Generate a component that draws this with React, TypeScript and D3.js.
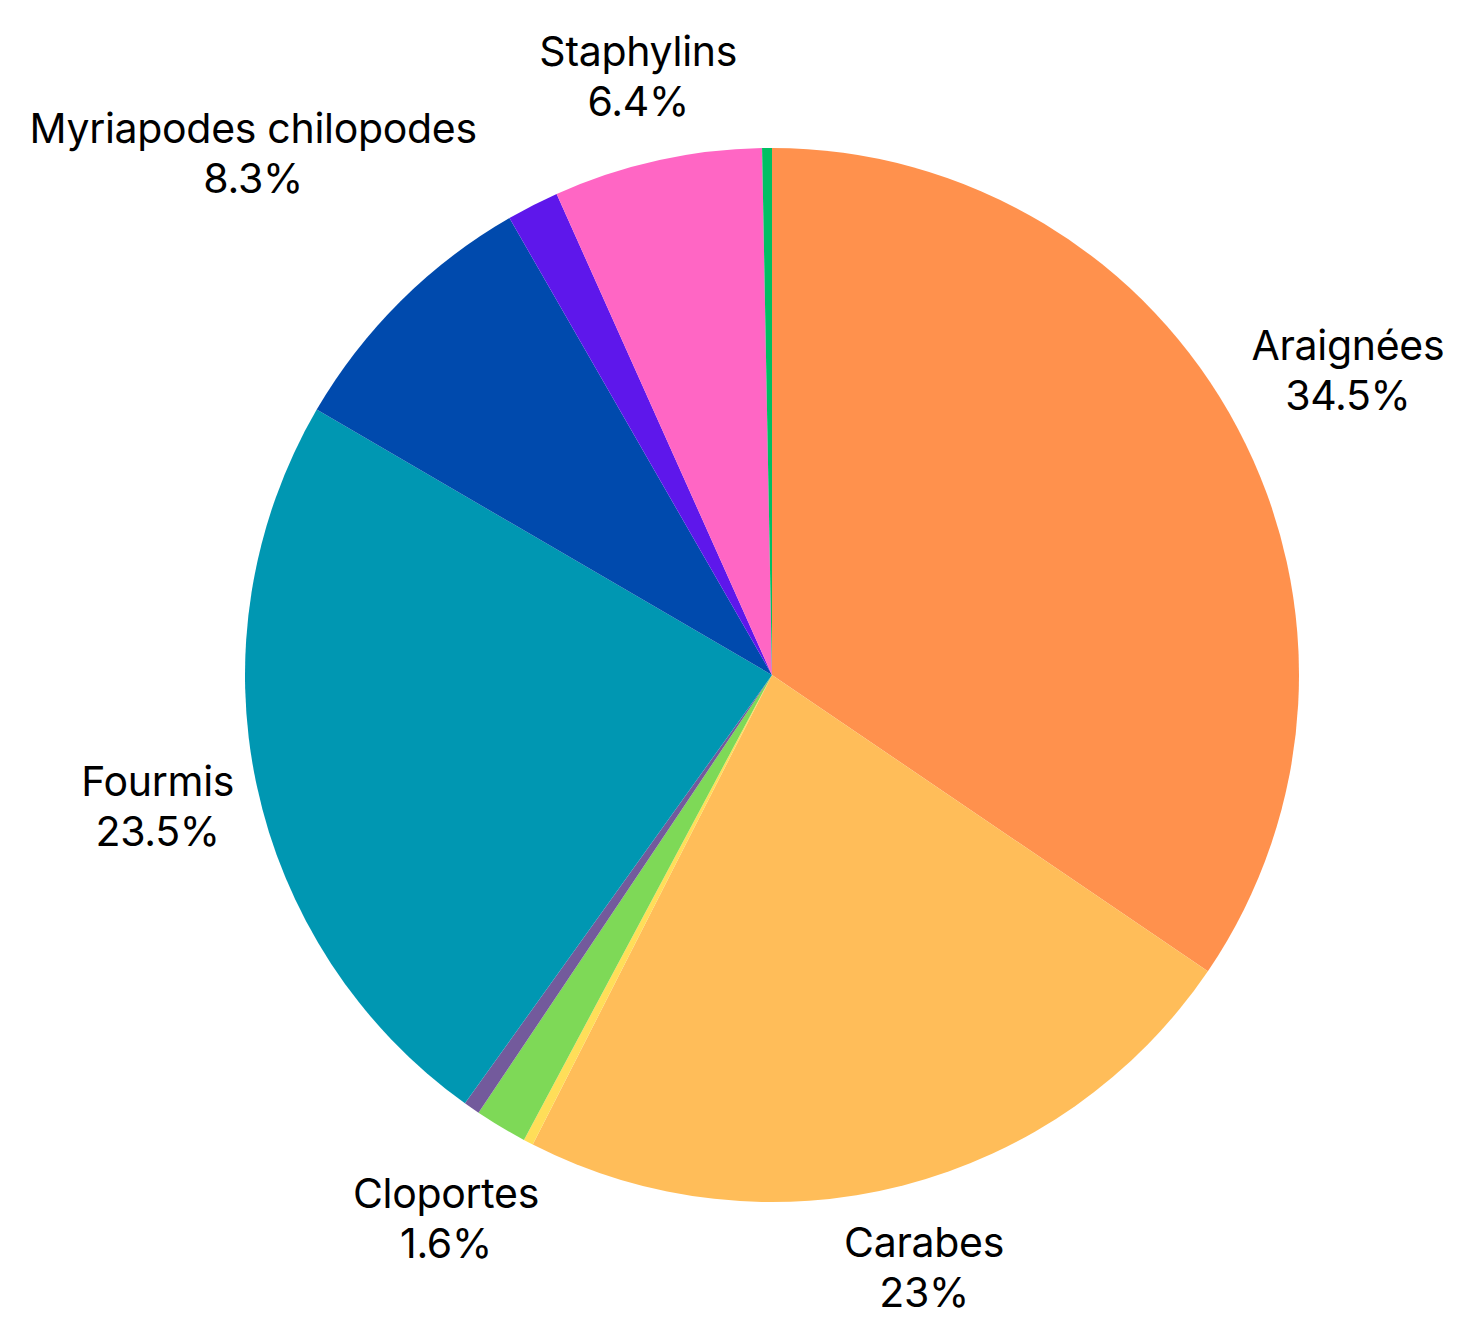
import React, { useEffect, useRef } from 'react';
import * as d3 from 'd3';

// slices in clockwise order starting at 12 o'clock
const names: (string | null)[] = [
  'Araignées',
  'Carabes',
  null,
  'Cloportes',
  null,
  'Fourmis',
  'Myriapodes chilopodes',
  null,
  'Staphylins',
  null,
];
const values: number[] = [34.5, 23, 0.3, 1.6, 0.5, 23.5, 8.3, 1.6, 6.4, 0.3];
const colors: string[] = [
  '#FF914D',
  '#FFBD59',
  '#FFDE59',
  '#7ED957',
  '#735A9C',
  '#0097B2',
  '#004AAD',
  '#5E17EB',
  '#FF66C4',
  '#00BF63',
];

const width = 1457;
const height = 1324;
const cx = 772;
const cy = 675;
const radius = 527;
const labelGap = 16;
const fontSize = 41;
const lineGap = 50;

export default function App() {
  const $labels: any = useRef(null);

  const pie = d3
    .pie<number>()
    .sort(null)
    .value((d) => d);
  const arcs = pie(values);
  const arc = d3.arc<d3.PieArcDatum<number>>().innerRadius(0).outerRadius(radius);

  useEffect(() => {
    const g = d3.select($labels.current);
    g.selectAll('*').remove();
    arcs.forEach((a, i) => {
      const name = names[i];
      if (!name) return;
      const mid = (a.startAngle + a.endAngle) / 2;
      const label = g
        .append('g')
        .attr('font-family', 'Inter, "Noto Sans", sans-serif')
        .attr('font-size', fontSize)
        .attr('letter-spacing', -0.3)
        .attr('fill', '#000')
        .attr('text-anchor', 'middle');
      label.append('text').attr('y', 0).text(name);
      label.append('text').attr('y', lineGap).text(`${values[i]}%`);
      const box = (label.node() as SVGGElement).getBBox();
      const bx = box.x + box.width / 2;
      const by = box.y + box.height / 2;
      const sx = Math.sin(mid);
      const sy = -Math.cos(mid);
      const d =
        radius +
        labelGap +
        (box.width / 2) * Math.abs(sx) +
        (box.height / 2) * Math.abs(sy);
      const px = cx + d * sx - bx;
      const py = cy + d * sy - by;
      label.attr('transform', `translate(${px},${py})`);
    });
  }, [arcs]);

  return (
    <svg
      width={width}
      height={height}
      style={{ position: 'absolute', left: 0, top: 0, background: '#fff' }}
    >
      <g transform={`translate(${cx},${cy})`}>
        {arcs.map((a, i) => (
          <path key={i} d={arc(a) as string} fill={colors[i]} />
        ))}
      </g>
      <g ref={$labels} />
    </svg>
  );
}
